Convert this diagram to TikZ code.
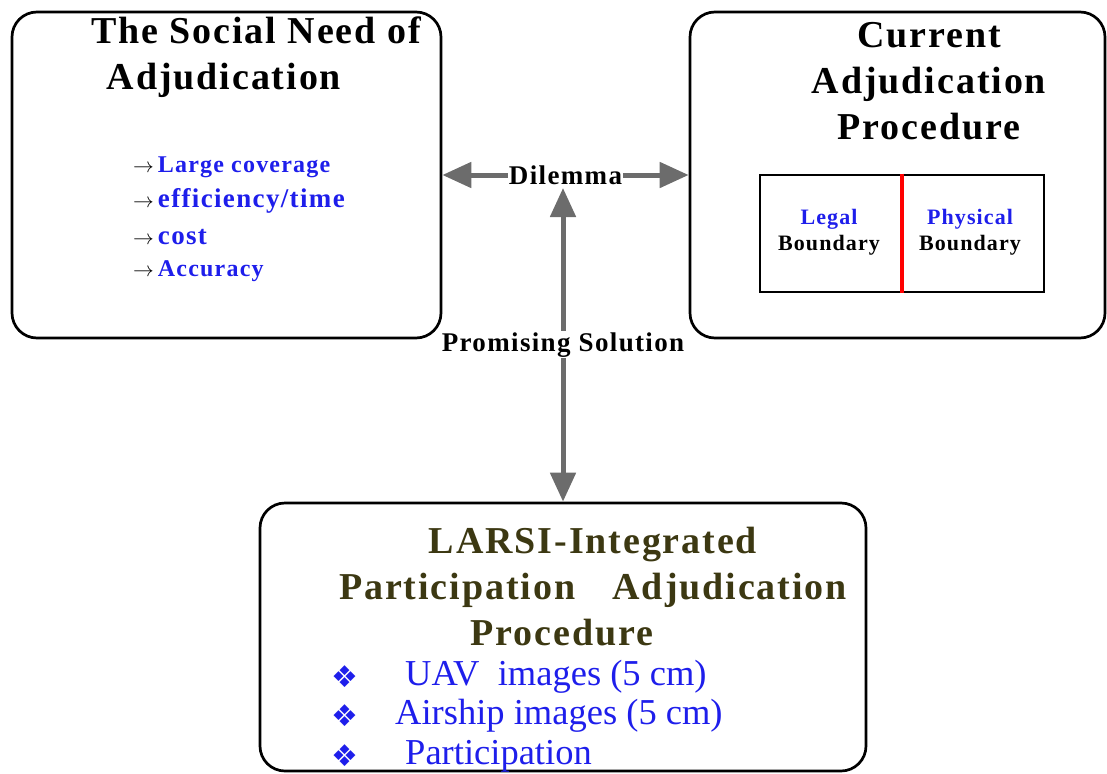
\documentclass[tikz,border=0pt]{standalone}
\usepackage{fontspec}
\setmainfont{Liberation Serif}
\newfontfamily\spaced[LetterSpace=5]{Liberation Serif}
\newfontfamily\symfont{DejaVu Sans}
\usetikzlibrary{arrows.meta,positioning}
\definecolor{itemblue}{RGB}{30,30,235}
\definecolor{larsiolive}{RGB}{60,56,18}
\definecolor{arrgray}{RGB}{108,108,108}

\begin{document}
\begin{tikzpicture}[x=1pt, y=-1pt,
    box/.style={draw, line width=2.7pt, rounded corners=25pt, inner sep=0pt},
    head/.style={font=\spaced\bfseries\fontsize{38}{46}\selectfont, align=center, inner sep=0pt},
    arr/.style={{Triangle[length=29pt,width=25pt]}-{Triangle[length=29pt,width=25pt]}, line width=5pt, arrgray},
    lbl/.style={fill=white, text=black, font=\spaced\bfseries\fontsize{27}{30}\selectfont, inner sep=1pt},
    bnd/.style={align=center, font=\spaced\bfseries\fontsize{22}{26}\selectfont},
    tool/.style={text=itemblue, font=\fontsize{36.5}{40}\selectfont, inner sep=0pt, anchor=west}
]
\useasboundingbox (0,0) rectangle (1107,773);

% the three boxes
\node[box, minimum width=429pt, minimum height=326pt] (social) at (226.5,175) {};
\node[box, minimum width=415pt, minimum height=326pt] (current) at (897.5,175) {};
\node[box, minimum width=606pt, minimum height=268pt] (larsi) at (563,637) {};

% social need
\node[head] (socialtitle) at (256,57) {The Social Need of\\\hspace*{-64pt}Adjudication};
\foreach \y/\s/\t [count=\i] in {167/24/Large coverage, 201/27/{efficiency/time}, 237/27/cost, 271/24/Accuracy}
    \node[anchor=west, inner sep=0pt, text=itemblue, font=\spaced\bfseries\fontsize{\s}{\s}\selectfont] (need\i) at (133,\y)
        {\textcolor{black}{\fontsize{20}{20}\selectfont$\rightarrow$}\hspace{4pt}\t};

% current procedure
\node[head] (currenttitle) at (929,81) {Current\\Adjudication\\Procedure};
\node[draw, line width=2.7pt, minimum width=284pt, minimum height=117pt, inner sep=0pt] (bound) at (902,233.5) {};
\draw[red, line width=4.5pt] (bound.north) -- (bound.south);
\node[bnd] (legal) at (829,232) {\textcolor{itemblue}{Legal}\\Boundary};
\node[bnd] (physical) at (970,232) {\textcolor{itemblue}{Physical}\\Boundary};

% LARSI procedure
\node[head, text=larsiolive] (larsititle) at (593,587)
    {LARSI-Integrated\\Participation\hspace{26pt} Adjudication\\\hspace*{-62pt}Procedure};
\foreach \y/\x/\t [count=\i] in {677/405/UAV~~images (5 cm), 716/395/Airship images (5 cm), 756/405/Participation} {
    \node[text=itemblue, font=\symfont\fontsize{30}{30}\selectfont, inner sep=0pt] (dia\i) at (345,\y) {❖};
    \node[tool] (tool\i) at (\x,\y) {\t};
}

% connectors
\draw[arr] (social.east) -- node[lbl] (dil) {Dilemma} (current.west);
\draw[arr] (larsi.north) -- node[lbl] (prom) {Promising Solution} (larsi.north |- dil.south);
\end{tikzpicture}
\end{document}
